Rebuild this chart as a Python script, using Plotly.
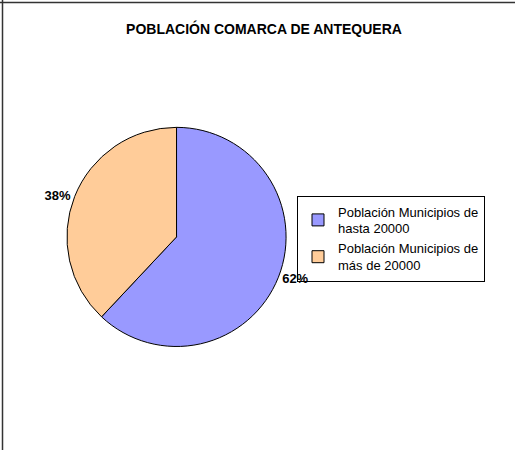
import plotly.graph_objects as go

# datos de la comarca
categorias = ['Población Municipios de<br>hasta 20000', 'Población Municipios de<br>más de 20000']
poblacion = [67200, 41200]
colores = ['#9999FF', '#FFCC99']

W, H = 515, 450

fig = go.Figure()
fig.add_trace(
    go.Pie(
        labels=categorias,
        values=poblacion,
        sort=False,
        direction='clockwise',
        rotation=0,
        marker=dict(colors=colores, line=dict(color='black', width=1)),
        textposition='outside',
        texttemplate='%{percent:.0%}',
        textfont=dict(family='Liberation Sans, Arial', size=13, color='black', weight='bold'),
        domain=dict(x=[0.13, 0.5555], y=[0.225, 0.722]),
        hoverinfo='label+percent',
    )
)

fig.update_layout(
    width=W,
    height=H,
    margin=dict(l=0, r=0, t=0, b=0),
    paper_bgcolor='white',
    plot_bgcolor='white',
    font=dict(family='Liberation Sans, Arial', color='black'),
    title=dict(
        text='<b>POBLACIÓN COMARCA DE ANTEQUERA</b>',
        x=264 / W, xanchor='center',
        y=1 - 29 / H, yanchor='middle',
        font=dict(size=14, color='black'),
    ),
    legend=dict(
        x=297 / W, xanchor='left',
        y=1 - 238.5 / H, yanchor='middle',
        font=dict(size=13, color='black'),
        bordercolor='black',
        borderwidth=1,
        bgcolor='rgba(0,0,0,0)',
    ),
    shapes=[
        dict(type='line', xref='paper', yref='paper', x0=0, x1=1,
             y0=1 - 2.5 / H, y1=1 - 2.5 / H, line=dict(color='#333333', width=1.5)),
        dict(type='line', xref='paper', yref='paper', x0=2.5 / W, x1=2.5 / W,
             y0=0, y1=1, line=dict(color='#333333', width=1.5)),
    ],
)

# quitar el margen por defecto del body para que la figura empiece en (0, 0)
fig.write_html("out.html", config={'displayModeBar': False},
               post_script="document.body.style.margin='0';")
